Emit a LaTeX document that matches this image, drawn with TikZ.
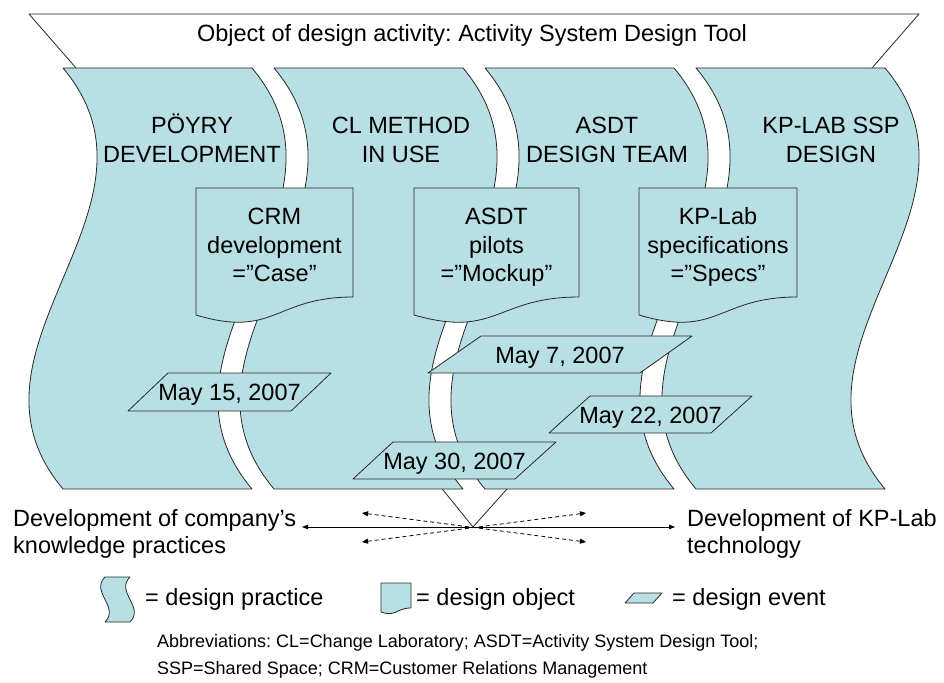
\documentclass[tikz,border=0pt]{standalone}
\usepackage{fontspec}
\setmainfont{Liberation Sans}
\usetikzlibrary{arrows.meta}
\definecolor{pfill}{RGB}{184,223,228}
\definecolor{edge}{RGB}{40,40,40}
\newcommand{\wavyband}[1]{%
  \path[practice] (#1,68) -- ++(189,0)
    .. controls +(118,140.3) and +(-118,-140.3) .. ++(0,421)
    -- ++(-189,0)
    .. controls +(-118,-140.3) and +(118,140.3) .. ++(0,-421) -- cycle;}
\frenchspacing
\begin{document}
\begin{tikzpicture}[x=1pt,y=-1pt,
  outline/.style={draw=edge,line width=0.8pt,line join=round},
  practice/.style={outline,fill=pfill},
  lbl/.style={font=\fontsize{23.5}{28}\selectfont,anchor=base,inner sep=0pt},
  lblw/.style={font=\fontsize{23.5}{28}\selectfont,anchor=base west,inner sep=0pt},
  small/.style={font=\fontsize{18}{22}\selectfont,anchor=base west,inner sep=0pt},
  solidarrow/.style={draw=black,line width=0.8pt,{Triangle[length=6pt,width=4.5pt]}-{Triangle[length=6pt,width=4.5pt]}},
  dasharrow/.style={draw=black,line width=0.8pt,dash pattern=on 4pt off 3pt,{Triangle[length=6pt,width=5pt]}-{Triangle[length=6pt,width=5pt]}},
]
\useasboundingbox[fill=white] (0,0) rectangle (944,682);

% top funnel
\path[fill=white] (29,14) -- (919,14) -- (872,68) -- (76,68) -- cycle;
\draw[outline] (76,68) -- (29,14) -- (919,14) -- (872,68);
\node[lbl] (objtitle) at (472,42) {Object of design activity: Activity System Design Tool};

% lower funnel
\coordinate (apex) at (473,527);
\draw[outline] (435,480) -- (apex) -- (515,480);

% design practices
\wavyband{63}
\wavyband{274}
\wavyband{485}
\wavyband{696}

\node[lbl] (p1a) at (192,133) {PÖYRY};
\node[lbl] (p1b) at (192,162) {DEVELOPMENT};
\node[lbl] (p2a) at (401,133) {CL METHOD};
\node[lbl] (p2b) at (401,162) {IN USE};
\node[lbl] (p3a) at (607,133) {ASDT};
\node[lbl] (p3b) at (607,162) {DESIGN TEAM};
\node[lbl] (p4a) at (831,133) {KP-LAB SSP};
\node[lbl] (p4b) at (831,162) {DESIGN};

% design objects
\path[practice] (196,188) -- (353,188) -- (353,297)
  .. controls (274.5,297) and (274.5,338.6) .. (196,315) -- cycle;
\path[practice] (414,188) -- (579,188) -- (579,297)
  .. controls (496.5,297) and (496.5,338.6) .. (414,315) -- cycle;
\path[practice] (639,188) -- (797,188) -- (797,297)
  .. controls (718,297) and (718,338.6) .. (639,315) -- cycle;

\node[lbl] (o1a) at (274.5,224) {CRM};
\node[lbl] (o1b) at (274.5,253) {development};
\node[lbl] (o1c) at (274.5,281) {=”Case”};
\node[lbl] (o2a) at (496.5,224) {ASDT};
\node[lbl] (o2b) at (496.5,253) {pilots};
\node[lbl] (o2c) at (496.5,281) {=”Mockup”};
\node[lbl] (o3a) at (718,224) {KP-Lab};
\node[lbl] (o3b) at (718,253) {specifications};
\node[lbl] (o3c) at (718,281) {=”Specs”};

% design events
\path[practice] (128,411) -- (291,411) -- (331,373) -- (168,373) -- cycle;
\node[lbl] (e1) at (229.5,400.5) {May 15, 2007};
\path[practice] (428,373) -- (640,373) -- (692,336) -- (481,336) -- cycle;
\node[lbl] (e2) at (560,363) {May 7, 2007};
\path[practice] (549,433) -- (711,433) -- (752,396) -- (590,396) -- cycle;
\node[lbl] (e3) at (650.5,423) {May 22, 2007};
\path[practice] (353,479) -- (515,479) -- (556,442) -- (393,442) -- cycle;
\node[lbl] (e4) at (454.5,469) {May 30, 2007};

% bottom directions
\node[lblw] (dl1) at (13,526) {Development of company’s};
\node[lblw] (dl2) at (13,553) {knowledge practices};
\node[lblw] (dr1) at (687,526) {Development of KP-Lab};
\node[lblw] (dr2) at (687,553) {technology};
\coordinate (solidL) at (302,527);
\coordinate (solidR) at (675,527);
\draw[solidarrow] (solidL) -- (solidR);
\coordinate (dUL) at (362,513);
\coordinate (dLL) at (362,542);
\coordinate (dUR) at (586,513);
\coordinate (dLR) at (586,542);
\draw[dasharrow] (dUL) -- (dLR);
\draw[dasharrow] (dLL) -- (dUR);

% legend
\path[practice] (105,577) -- (130,577)
  .. controls +(-15,15) and +(15,-15) .. (130,622)
  -- (105,622)
  .. controls +(15,-15) and +(-15,15) .. (105,577) -- cycle;
\node[lblw] (leg1) at (145,605) {= design practice};
\path[practice] (381,583) -- (411,583) -- (411,608)
  .. controls (396,608) and (396,617.3) .. (381,612) -- cycle;
\node[lblw] (leg2) at (416,605) {= design object};
\path[practice] (625,603) -- (653,603) -- (662,593) -- (634,593) -- cycle;
\node[lblw] (leg3) at (672,605) {= design event};

% abbreviations
\node[small] (abbr1) at (157,647) {Abbreviations: CL=Change Laboratory; ASDT=Activity System Design Tool;};
\node[small] (abbr2) at (157,674) {SSP=Shared Space; CRM=Customer Relations Management};
\end{tikzpicture}
\end{document}
